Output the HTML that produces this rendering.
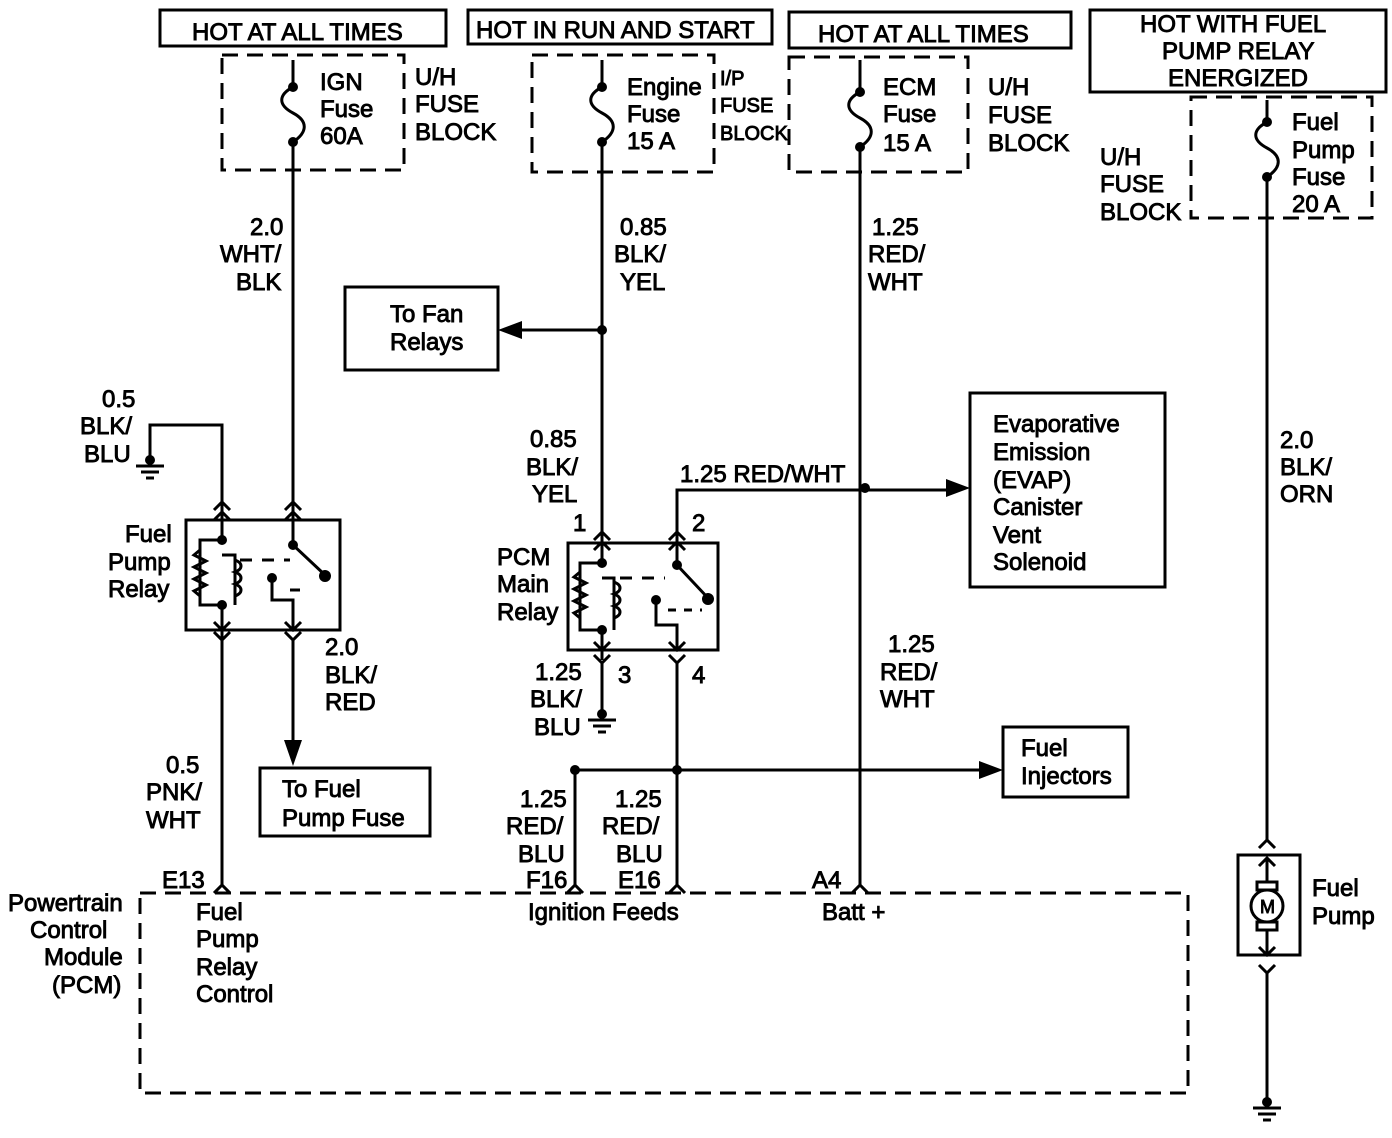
<!DOCTYPE html>
<html><head><style>
html,body{margin:0;padding:0;background:#fff}
svg{display:block}
text{font-family:"Liberation Sans",Arial,sans-serif;font-size:24px;fill:#000;stroke:#000;stroke-width:0.9}
</style></head><body>
<svg width="1392" height="1138" viewBox="0 0 1392 1138" xmlns="http://www.w3.org/2000/svg">
<g fill="none" stroke="#000" stroke-width="3">
<rect x="160" y="10" width="286" height="36"/>
<rect x="468" y="10" width="304" height="34"/>
<rect x="789" y="12" width="282" height="36"/>
<rect x="1090" y="10" width="296" height="82"/>
<g stroke-dasharray="16,9">
<rect x="222" y="55" width="182" height="115"/>
<rect x="532" y="55" width="182" height="117"/>
<rect x="789" y="57" width="179" height="115"/>
<rect x="1191" y="97" width="181" height="121"/>
<rect x="140" y="893" width="1048" height="200"/>
</g>
<path d="M293 60 V87 C278 95 278 105 293 113 C308 121 308 132 293 142"/>
<path d="M602 60 V87 C587 95 587 105 602 113 C617 121 617 132 602 142"/>
<path d="M860 60 V92 C845 100 845 110 860 118 C875 126 875 137 860 147"/>
<path d="M1267 100 V122 C1252 130 1252 140 1267 148 C1282 156 1282 167 1267 177"/>
<path d="M293 142 V512"/>
<path d="M602 142 V532"/>
<path d="M860 147 V885"/>
<path d="M1267 177 V840"/>
<path d="M602 330 H510"/>
<path d="M677 532 V490 H955"/>
<rect x="345" y="287" width="153" height="83"/>
<rect x="970" y="393" width="195" height="194"/>
<rect x="1003" y="727" width="125" height="70"/>
<rect x="260" y="768" width="170" height="68"/>
<rect x="186" y="520" width="154" height="110"/>
<path d="M222 512 V425 H150 V465"/>
<path d="M214 520 L222 512 L230 520 M214 510 L222 502 L230 510"/>
<path d="M285 520 L293 512 L301 520 M285 510 L293 502 L301 510"/>
<path d="M222 512 V540 H200 V605 H222 V640 M222 555 H235 V605"/>
<path d="M200 550 l-6 5 l12 6 l-12 6 l12 6 l-12 6 l12 6 l-12 6 l6 5"/>
<path d="M235 560 c8 3 8 9 0 12 c8 3 8 9 0 12 c8 3 8 9 0 12" />
<path d="M293 512 V545 L325 575"/>
<path d="M272 578 V600 H293 V628"/>
<path d="M240 560 H290" stroke-dasharray="12,10"/>
<path d="M290 590 H300"/>
<path d="M214 622 L222 630 L230 622 M214 632 L222 640 L230 632 M222 640 V885"/>
<path d="M285 622 L293 630 L301 622 M285 632 L293 640 L301 632 M293 640 V740"/>
<rect x="568" y="543" width="150" height="107"/>
<path d="M594 540 L602 532 L610 540 M594 550 L602 542 L610 550"/>
<path d="M669 540 L677 532 L685 540 M669 550 L677 542 L685 550"/>
<path d="M602 532 V563 H580 V630 H602 V660 M602 578 H614 V630"/>
<path d="M580 572 l-6 5 l12 6 l-12 6 l12 6 l-12 6 l12 6 l-12 6 l6 5"/>
<path d="M614 582 c8 3 8 9 0 12 c8 3 8 9 0 12 c8 3 8 9 0 12"/>
<path d="M677 532 V565 L708 598"/>
<path d="M656 600 V625 H677 V648"/>
<path d="M620 578 H665" stroke-dasharray="12,10"/>
<path d="M668 610 H702" stroke-dasharray="8,8"/>
<path d="M594 642 L602 650 L610 642 M594 655 L602 663 L610 655 M602 663 V718"/>
<path d="M669 642 L677 650 L685 642 M669 655 L677 663 L685 655 M677 663 V885"/>
<path d="M575 770 H988 M575 770 V885"/>
<path d="M214 893 L222 885 L230 893"/>
<path d="M567 893 L575 885 L583 893"/>
<path d="M669 893 L677 885 L685 893"/>
<path d="M852 893 L860 885 L868 893"/>
<path d="M1259 848 L1267 840 L1275 848"/>
<rect x="1238" y="855" width="62" height="100"/>
<path d="M1259 866 L1267 858 L1275 866 M1267 858 V882 M1267 930 V955 M1259 947 L1267 955 L1275 947"/>
<rect x="1257" y="882" width="20" height="8"/>
<rect x="1257" y="922" width="20" height="8"/>
<circle cx="1267" cy="906" r="16"/>
<path d="M1259 965 L1267 973 L1275 965 M1267 973 V1105"/>
<path d="M136 466 H164 M141 472 H159 M146 478 H154"/>
<path d="M588 720 H616 M593 726 H611 M598 732 H606"/>
<path d="M1253 1108 H1281 M1258 1114 H1276 M1263 1120 H1271"/>
</g>
<g fill="#000" stroke="none">
<circle cx="293" cy="87" r="5"/><circle cx="293" cy="142" r="5"/>
<circle cx="602" cy="87" r="5"/><circle cx="602" cy="142" r="5"/>
<circle cx="860" cy="92" r="5"/><circle cx="860" cy="147" r="5"/>
<circle cx="1267" cy="122" r="5"/><circle cx="1267" cy="177" r="5"/>
<circle cx="602" cy="330" r="5"/><circle cx="865" cy="488" r="5"/>
<circle cx="575" cy="770" r="5"/><circle cx="677" cy="770" r="5"/>
<circle cx="222" cy="540" r="5"/><circle cx="222" cy="605" r="5"/>
<circle cx="293" cy="545" r="5"/><circle cx="325" cy="576" r="6"/><circle cx="272" cy="578" r="5"/>
<circle cx="602" cy="563" r="5"/><circle cx="602" cy="630" r="5"/>
<circle cx="677" cy="565" r="5"/><circle cx="708" cy="599" r="6"/><circle cx="656" cy="600" r="5"/>
<circle cx="150" cy="460" r="5"/><circle cx="602" cy="714" r="5"/><circle cx="1267" cy="1102" r="5"/>
<path d="M498 330 L522 321 L522 339 Z"/>
<path d="M970 488 L946 479 L946 497 Z"/>
<path d="M1003 770 L979 761 L979 779 Z"/>
<path d="M293 766 L284 740 L302 740 Z"/>
</g>
<text x="192" y="40">HOT AT ALL TIMES</text>
<text x="476" y="38">HOT IN RUN AND START</text>
<text x="818" y="42">HOT AT ALL TIMES</text>
<text x="1140" y="32">HOT WITH FUEL</text>
<text x="1162" y="59">PUMP RELAY</text>
<text x="1168" y="86">ENERGIZED</text>
<text x="320" y="90">IGN</text><text x="320" y="117">Fuse</text><text x="320" y="144">60A</text>
<text x="415" y="85">U/H</text><text x="415" y="112">FUSE</text><text x="415" y="140">BLOCK</text>
<text x="627" y="95">Engine</text><text x="627" y="122">Fuse</text><text x="627" y="149">15 A</text>
<text x="720" y="85" style="font-size:20px">I/P</text><text x="720" y="112" style="font-size:20px">FUSE</text><text x="720" y="140" style="font-size:20px">BLOCK</text>
<text x="883" y="95">ECM</text><text x="883" y="122">Fuse</text><text x="883" y="151">15 A</text>
<text x="988" y="95">U/H</text><text x="988" y="123">FUSE</text><text x="988" y="151">BLOCK</text>
<text x="1292" y="130">Fuel</text><text x="1292" y="158">Pump</text><text x="1292" y="185">Fuse</text><text x="1292" y="212">20 A</text>
<text x="1100" y="165">U/H</text><text x="1100" y="192">FUSE</text><text x="1100" y="220">BLOCK</text>
<text x="250" y="235">2.0</text><text x="220" y="262">WHT/</text><text x="236" y="290">BLK</text>
<text x="620" y="235">0.85</text><text x="614" y="262">BLK/</text><text x="620" y="290">YEL</text>
<text x="872" y="235">1.25</text><text x="868" y="262">RED/</text><text x="868" y="290">WHT</text>
<text x="390" y="322">To Fan</text><text x="390" y="350">Relays</text>
<text x="102" y="407">0.5</text><text x="80" y="434">BLK/</text><text x="84" y="462">BLU</text>
<text x="125" y="542">Fuel</text><text x="108" y="570">Pump</text><text x="108" y="597">Relay</text>
<text x="530" y="447">0.85</text><text x="526" y="475">BLK/</text><text x="532" y="502">YEL</text>
<text x="680" y="482">1.25 RED/WHT</text>
<text x="573" y="531">1</text><text x="692" y="531">2</text>
<text x="497" y="565">PCM</text><text x="497" y="592">Main</text><text x="497" y="620">Relay</text>
<text x="993" y="432">Evaporative</text><text x="993" y="460">Emission</text><text x="993" y="488">(EVAP)</text><text x="993" y="515">Canister</text><text x="993" y="543">Vent</text><text x="993" y="570">Solenoid</text>
<text x="1280" y="448">2.0</text><text x="1280" y="475">BLK/</text><text x="1280" y="502">ORN</text>
<text x="325" y="655">2.0</text><text x="325" y="683">BLK/</text><text x="325" y="710">RED</text>
<text x="535" y="680">1.25</text><text x="530" y="707">BLK/</text><text x="534" y="735">BLU</text>
<text x="618" y="683">3</text><text x="692" y="683">4</text>
<text x="888" y="652">1.25</text><text x="880" y="680">RED/</text><text x="880" y="707">WHT</text>
<text x="1021" y="756">Fuel</text><text x="1021" y="784">Injectors</text>
<text x="166" y="773">0.5</text><text x="146" y="800">PNK/</text><text x="146" y="828">WHT</text>
<text x="282" y="797">To Fuel</text><text x="282" y="826">Pump Fuse</text>
<text x="520" y="807">1.25</text><text x="506" y="834">RED/</text><text x="518" y="862">BLU</text>
<text x="615" y="807">1.25</text><text x="602" y="834">RED/</text><text x="616" y="862">BLU</text>
<text x="162" y="888">E13</text><text x="526" y="888">F16</text><text x="618" y="888">E16</text><text x="812" y="888">A4</text>
<text x="1312" y="896">Fuel</text><text x="1312" y="924">Pump</text>
<text x="1260" y="913" style="font-size:18px">M</text>
<text x="8" y="911">Powertrain</text><text x="30" y="938">Control</text><text x="44" y="965">Module</text><text x="52" y="993">(PCM)</text>
<text x="196" y="920">Fuel</text><text x="196" y="947">Pump</text><text x="196" y="975">Relay</text><text x="196" y="1002">Control</text>
<text x="528" y="920">Ignition Feeds</text>
<text x="822" y="920">Batt +</text>
</svg>
</body></html>
